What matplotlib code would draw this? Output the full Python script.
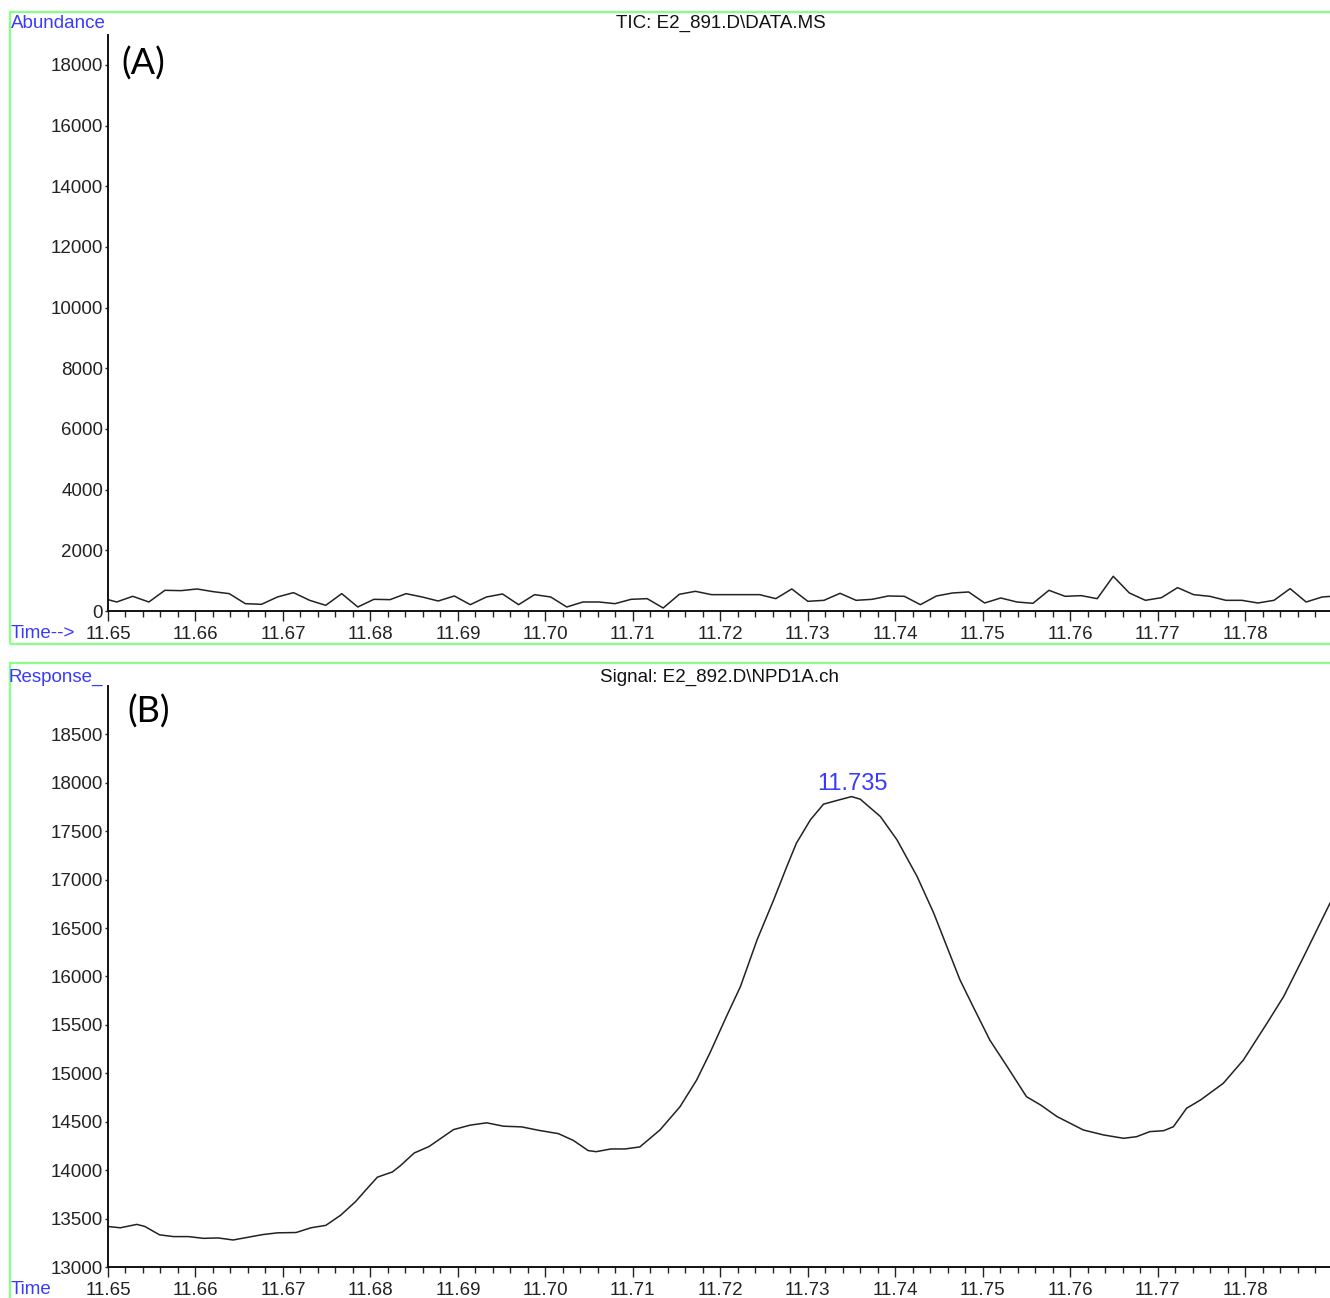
import numpy as np
import matplotlib
matplotlib.use("Agg")
import matplotlib.pyplot as plt
from matplotlib.patches import Rectangle
from matplotlib.ticker import FixedLocator, FormatStrFormatter

plt.rcParams['font.family'] = ['Liberation Sans', 'DejaVu Sans']

# TIC trace (panel A), scan times in minutes and abundance
tic_time = [11.64916, 11.65099, 11.65283, 11.65467, 11.65651, 11.65835, 11.66018,
            11.66202, 11.66386, 11.66570, 11.66754, 11.66937, 11.67121, 11.67305,
            11.67489, 11.67672, 11.67856, 11.68040, 11.68224, 11.68407, 11.68591,
            11.68775, 11.68959, 11.69142, 11.69326, 11.69510, 11.69694, 11.69877,
            11.70061, 11.70245, 11.70429, 11.70612, 11.70796, 11.70980, 11.71164,
            11.71347, 11.71531, 11.71715, 11.71899, 11.72082, 11.72266, 11.72450,
            11.72634, 11.72817, 11.73001, 11.73185, 11.73369, 11.73552, 11.73736,
            11.73920, 11.74104, 11.74287, 11.74471, 11.74655, 11.74839, 11.75022,
            11.75206, 11.75390, 11.75574, 11.75757, 11.75941, 11.76125, 11.76309,
            11.76492, 11.76676, 11.76860, 11.77044, 11.77227, 11.77411, 11.77595,
            11.77779, 11.77962, 11.78146, 11.78330, 11.78514, 11.78697, 11.78881,
            11.79065]
tic_abund = [440, 297, 484, 297, 682, 671, 726, 638, 572, 242, 220, 462, 605, 352,
             187, 572, 132, 385, 374, 572, 462, 330, 495, 209, 462, 561, 209, 539,
             462, 132, 297, 297, 242, 385, 407, 99, 550, 649, 539, 539, 539, 539,
             407, 726, 319, 352, 583, 352, 385, 495, 484, 209, 495, 594, 627, 264,
             429, 297, 253, 682, 484, 506, 407, 1144, 594, 352, 440, 770, 539, 484,
             352, 352, 264, 352, 737, 297, 462, 500]

# NPD signal (panel B)
npd_time = [11.6499, 11.6514, 11.6533, 11.6542, 11.6559, 11.6575, 11.6592, 11.6609,
            11.6626, 11.6643, 11.6660, 11.6677, 11.6694, 11.6715, 11.6732, 11.6749,
            11.6766, 11.6783, 11.6795, 11.6808, 11.6825, 11.6834, 11.6850, 11.6867,
            11.6880, 11.6895, 11.6914, 11.6933, 11.6952, 11.6973, 11.6992, 11.7015,
            11.7032, 11.7049, 11.7058, 11.7075, 11.7091, 11.7108, 11.7131, 11.7154,
            11.7173, 11.7188, 11.7207, 11.7223, 11.7242, 11.7261, 11.7276, 11.7287,
            11.7303, 11.7318, 11.7333, 11.7350, 11.7360, 11.7383, 11.7402, 11.7425,
            11.7444, 11.7459, 11.7474, 11.7489, 11.7508, 11.7528, 11.7550, 11.7566,
            11.7585, 11.7615, 11.7638, 11.7661, 11.7676, 11.7691, 11.7707, 11.7718,
            11.7733, 11.7749, 11.7775, 11.7798, 11.7825, 11.7844, 11.7867, 11.7882,
            11.7897]
npd_resp = [13419, 13405, 13440, 13419, 13332, 13314, 13314, 13296, 13300, 13279,
            13307, 13335, 13353, 13356, 13405, 13430, 13535, 13675, 13798, 13928,
            13981, 14044, 14177, 14244, 14325, 14419, 14465, 14489, 14454, 14447,
            14412, 14377, 14307, 14202, 14191, 14219, 14219, 14240, 14415, 14656,
            14932, 15208, 15587, 15896, 16378, 16791, 17135, 17377, 17618, 17780,
            17817, 17858, 17831, 17652, 17411, 17032, 16654, 16309, 15965, 15689,
            15345, 15069, 14759, 14674, 14553, 14415, 14364, 14329, 14346, 14398,
            14408, 14449, 14639, 14725, 14897, 15138, 15518, 15793, 16206, 16482,
            16757]

peak_time = 11.735
peak_resp = 17858

x_major = [11.65, 11.66, 11.67, 11.68, 11.69, 11.70, 11.71, 11.72, 11.73, 11.74,
           11.75, 11.76, 11.77, 11.78]
yticks_a = [0, 2000, 4000, 6000, 8000, 10000, 12000, 14000, 16000, 18000]
yticks_b = [13000, 13500, 14000, 14500, 15000, 15500, 16000, 16500, 17000, 17500,
            18000, 18500]

W, H = 1330, 1298
blue = '#3a3aff'
green = '#88ff88'
tick_grey = '#222222'

fig = plt.figure(figsize=(W / 100, H / 100), dpi=100)


def px(x, y):
    # pixel position (from top-left) to figure fraction
    return x / W, 1 - y / H


def style_axis(ax, yticks, ylim):
    ax.set_xlim(11.65, 11.7897)
    ax.set_ylim(*ylim)
    for s in ('top', 'right'):
        ax.spines[s].set_visible(False)
    for s in ('left', 'bottom'):
        ax.spines[s].set_linewidth(1.4)
        ax.spines[s].set_color('#111111')
    ax.xaxis.set_major_locator(FixedLocator(x_major))
    ax.xaxis.set_minor_locator(FixedLocator(np.arange(11.650, 11.7901, 0.002)))
    ax.xaxis.set_major_formatter(FormatStrFormatter('%.2f'))
    ax.yaxis.set_major_locator(FixedLocator(yticks))
    ax.yaxis.set_major_formatter(FormatStrFormatter('%d'))
    ax.tick_params(axis='x', which='major', direction='out', length=7, width=1.0,
                   pad=4, labelsize=13.5, colors=tick_grey)
    ax.tick_params(axis='x', which='minor', direction='out', length=4.5, width=1.0,
                   colors=tick_grey)
    ax.tick_params(axis='y', which='major', direction='out', length=2.5, width=1.0,
                   pad=1, labelsize=13.5, colors=tick_grey)
    ax.patch.set_alpha(0)


# panel A
l, b = px(108, 611)
_, t = px(108, 34.6)
ax_a = fig.add_axes([l, b, 1 - l, t - b])
ax_a.plot(tic_time, tic_abund, color='#222222', lw=1.1, clip_on=True)
style_axis(ax_a, yticks_a, (0, 19000))

# panel B
l, b = px(108, 1267)
_, t = px(108, 686)
ax_b = fig.add_axes([l, b, 1 - l, t - b])
ax_b.plot(npd_time, npd_resp, color='#222222', lw=1.1)
style_axis(ax_b, yticks_b, (13000, 19000))
ax_b.annotate(f'{peak_time:.3f}', xy=(peak_time, peak_resp), xytext=(1, 1),
              textcoords='offset points', ha='center', va='bottom',
              color=blue, fontsize=17)

# green panel frames
for x0, y0, y1 in [(10, 12, 644), (10, 663, 1310)]:
    fx, fy = px(x0, y1)
    fig.add_artist(Rectangle((fx, fy), 1.05 - fx, (y1 - y0) / H,
                             transform=fig.transFigure, fill=False,
                             edgecolor=green, lw=1.6, clip_on=False))

# header and axis captions
def ftext(x, y, s, **kw):
    fx, fy = px(x, y)
    fig.text(fx, fy, s, va='center', **kw)

ftext(11, 23, 'Abundance', color=blue, fontsize=13.5)
ftext(721, 23, 'TIC: E2_891.D\\DATA.MS', ha='center', color='#111111', fontsize=13.5)
ftext(11, 634, 'Time-->', color=blue, fontsize=13.5)
ftext(9, 677, 'Response_', color=blue, fontsize=13.5)
ftext(720, 677, 'Signal: E2_892.D\\NPD1A.ch', ha='center', color='#111111', fontsize=13.5)
ftext(11, 1289, 'Time', color=blue, fontsize=13.5)
ftext(121, 64, '(A)', color='black', fontsize=26, family=['Lato', 'DejaVu Sans'])
ftext(127, 712, '(B)', color='black', fontsize=26, family=['Lato', 'DejaVu Sans'])

fig.savefig('out.png', dpi=100)
